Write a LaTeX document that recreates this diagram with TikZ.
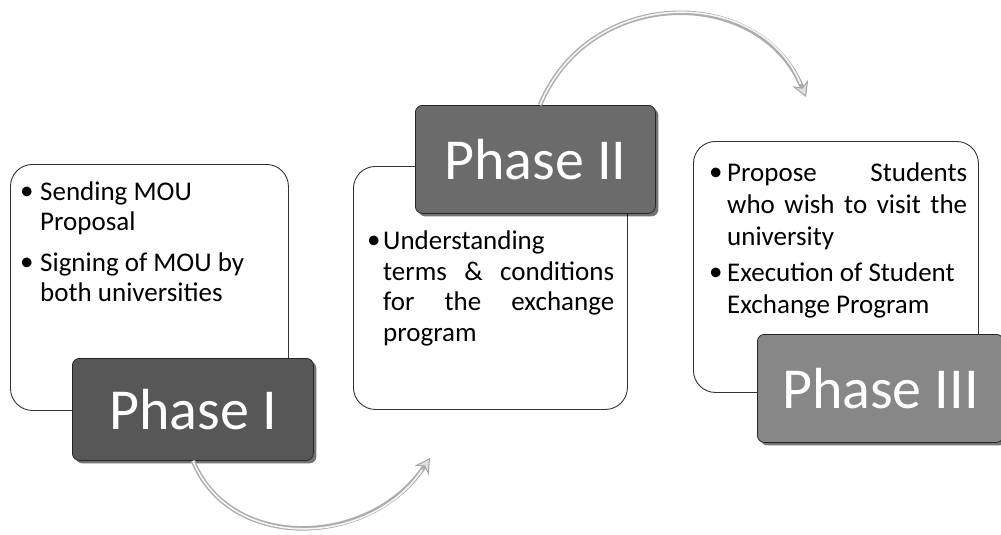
\documentclass[tikz,border=0pt]{standalone}
\usepackage{fontspec}
\setmainfont{Carlito}
\usetikzlibrary{arrows.meta,shadows,calc}
\newcommand{\bitem}[2][17pt]{\par\hangindent=#1\hangafter=1\noindent\makebox[#1][l]{\raisebox{1pt}{\textbullet}}#2}
\begin{document}
\begin{tikzpicture}[x=1pt,y=-1pt,
  box/.style={draw=black!80, line width=0.9pt, rounded corners=22pt, fill=white, anchor=north west, inner sep=0pt},
  phase/.style={draw=black!85, line width=0.8pt, rounded corners=7pt,
    drop shadow={shadow xshift=3pt, shadow yshift=-3pt, opacity=0.55, fill=black},
    text=white, font=\fontsize{58}{60}\selectfont, inner sep=0pt, anchor=north west},
  txt/.style={anchor=north west, inner sep=0pt, align=justify},
  tube/.style={draw=gray!65, line width=4.5pt},
  shine/.style={draw=gray!8, line width=1.6pt},
  tip/.style={-{Stealth[length=15pt, width=17pt, line width=1pt, fill=gray!25, color=gray!70]}}]
\useasboundingbox (0,0) rectangle (1001,535);

% content boxes
\node[box, minimum width=278pt, minimum height=246pt] (b1) at (10,164) {};
\node[box, minimum width=274pt, minimum height=243pt] (b2) at (353,166) {};
\node[box, minimum width=285pt, minimum height=251pt] (b3) at (693,141) {};

% texts
\node[txt, text width=260pt, font=\fontsize{27}{30}\selectfont] (t1) at (20,170) {%
  \bitem[20pt]{Sending MOU\newline Proposal}\par\vspace{11pt}%
  \bitem[20pt]{Signing of MOU by\newline both universities}\par};
\node[txt, text width=247pt, font=\fontsize{27}{30.5}\selectfont] (t2) at (367,219) {%
  \bitem[16pt]{Understanding\newline terms \& conditions\linebreak for the exchange\linebreak program}\par};
\node[txt, text width=258pt, font=\fontsize{27}{32}\selectfont] (t3) at (709,149) {%
  \bitem[18pt]{Propose Students\linebreak who wish to visit the\linebreak university}\par\vspace{4pt}%
  \bitem[18pt]{Execution of Student\newline Exchange Program}\par};

% phase labels
\node[phase, fill=black!66, minimum width=241pt, minimum height=102pt] (p1) at (72,358) {Phase I};
\node[phase, fill=black!58, minimum width=240pt, minimum height=108pt] (p2) at (415,105) {Phase II};
\node[phase, fill=black!47, minimum width=246pt, minimum height=108pt] (p3) at (757,334) {Phase III};

% connectors
\coordinate (e1) at (430,458);
\coordinate (e2) at (806,97);
\draw[tube, tip] ($(p1.south west)+(121,0)$) .. controls (230,552) and (370,548) .. (e1);
\draw[shine, shorten >=14pt] ($(p1.south west)+(121,0)$) .. controls (230,552) and (370,548) .. (e1);
\draw[tube, tip] ($(p2.north west)+(125,0)$) .. controls (590,-15) and (760,-15) .. (e2);
\draw[shine, shorten >=14pt] ($(p2.north west)+(125,0)$) .. controls (590,-15) and (760,-15) .. (e2);
\end{tikzpicture}
\end{document}
